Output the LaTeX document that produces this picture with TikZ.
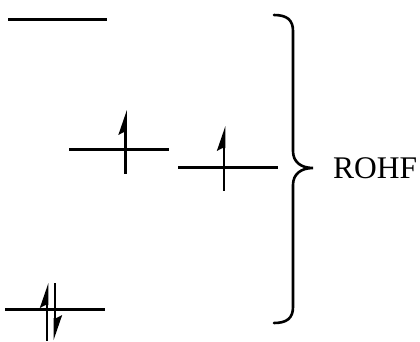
\documentclass[tikz,border=0pt]{standalone}
\usepackage{fontspec}
\setmainfont{Liberation Serif}
\usetikzlibrary{positioning}

\begin{document}
\begin{tikzpicture}[x=1pt,y=-1pt,
  lvl/.style={line width=3pt},
  stem/.style={line width=2.8pt},
  brc/.style={line width=2.6pt,line cap=round}]
\useasboundingbox (0,0) rectangle (420,341);
% --- levels ---
\coordinate (a1) at (8,19);    \coordinate (a2) at (107,19);
\coordinate (b1) at (69,149);  \coordinate (b2) at (169,149);
\coordinate (c1) at (178,167); \coordinate (c2) at (278,167);
\coordinate (d1) at (5,309);   \coordinate (d2) at (105,309);
\draw[lvl] (a1) -- (a2);
\draw[lvl] (b1) -- (b2);
\draw[lvl] (c1) -- (c2);
\draw[lvl] (d1) -- (d2);
% --- spins ---
\draw[stem] (125.5,132) -- (125.5,174);
\fill (126.9,110) -- (118.3,135) -- (124.1,132) -- (126.9,132) -- cycle;
\draw[stem] (224,148) -- (224,191);
\fill (225.4,126) -- (216.8,151) -- (222.6,148) -- (225.4,148) -- cycle;
\draw[stem] (47,305) -- (47,341);
\fill (48.4,283) -- (39.8,308) -- (45.6,305) -- (48.4,305) -- cycle;
\draw[stem] (55,283) -- (55,318);
\fill (53.6,340) -- (62.2,315) -- (56.4,318) -- (53.6,318) -- cycle;
% --- brace ---
\draw[brc] (274,15) .. controls (287,15) and (293,20) .. (293,31)
  -- (293,151) .. controls (293,162) and (301,168) .. (313,168)
  .. controls (301,168) and (293,174) .. (293,185)
  -- (293,307) .. controls (293,318) and (287,323) .. (274,323);
\coordinate (tip) at (313,168);
\node[anchor=west,inner sep=0pt,font=\fontsize{31.5}{36}\selectfont] (rohf) at ([xshift=20pt]tip) {ROHF};
\end{tikzpicture}
\end{document}
